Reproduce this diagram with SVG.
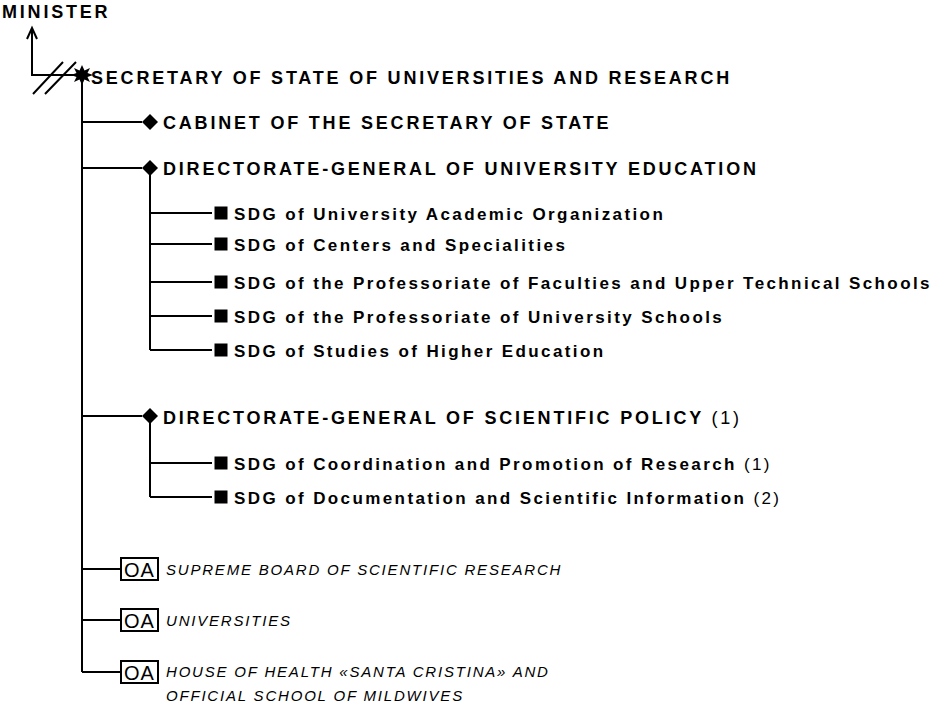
<svg xmlns="http://www.w3.org/2000/svg" width="937" height="707" viewBox="0 0 937 707">
<style>
.h{font-family:"Liberation Sans",Arial,sans-serif;font-weight:bold;font-size:18px;letter-spacing:2.8px;fill:#000}
.s{font-family:"Liberation Sans",Arial,sans-serif;font-weight:bold;font-size:17px;letter-spacing:2.4px;fill:#000}
.n{font-weight:normal}
.i{font-family:"Liberation Sans",Arial,sans-serif;font-style:italic;font-size:15px;letter-spacing:1.8px;fill:#000}
.oa{font-family:"Liberation Sans",Arial,sans-serif;font-size:20px;letter-spacing:1px;fill:#000}
.ln{stroke:#000;stroke-width:2;fill:none}
.box{stroke:#000;stroke-width:2;fill:#fff}
</style>
<defs>
<polygon id="dia" points="0,-8 8,0 0,8 -8,0" fill="#000"/>
<rect id="sq" x="-6.5" y="-6.5" width="13" height="13" fill="#000"/>
</defs>
<g id="connectors" class="ln">
<path d="M27,39 L32,28 L37,39"/>
<path d="M32,28 V75 H82"/>
<path d="M33,94 L63,62 M45,94 L76,62"/>
<path d="M82,75 V672"/>
<path d="M82,122 H142 M82,168 H142 M82,416 H142"/>
<path d="M150,168 V350"/>
<path d="M150,213 H212 M150,244 H212 M150,282 H212 M150,316 H212 M150,350 H212"/>
<path d="M150,416 V497"/>
<path d="M150,463 H212 M150,497 H212"/>
<path d="M82,569 H121 M82,620 H121 M82,672 H121"/>
</g>
<g id="minister"><text class="h" x="2" y="18">MINISTER</text></g>
<g id="secretary">
<polygon points="82,65 84.5,70.5 90,68 87.5,73 93,75 87.5,77 90,82 84.5,79.5 82,85 79.5,79.5 74,82 76.5,77 71,75 76.5,73 74,68 79.5,70.5" fill="#000"/>
<text class="h" x="91" y="84">SECRETARY OF STATE OF UNIVERSITIES AND RESEARCH</text>
</g>
<g id="cabinet"><use href="#dia" x="150" y="122"/><text class="h" x="163" y="129">CABINET OF THE SECRETARY OF STATE</text></g>
<g id="dg-ue"><use href="#dia" x="150" y="168"/><text class="h" x="163" y="175">DIRECTORATE-GENERAL OF UNIVERSITY EDUCATION</text></g>
<g id="sdg1"><use href="#sq" x="221" y="213"/><text class="s" x="234" y="220">SDG of University Academic Organization</text></g>
<g id="sdg2"><use href="#sq" x="221" y="244"/><text class="s" x="234" y="251">SDG of Centers and Specialities</text></g>
<g id="sdg3"><use href="#sq" x="221" y="282"/><text class="s" x="234" y="289">SDG of the Professoriate of Faculties and Upper Technical Schools</text></g>
<g id="sdg4"><use href="#sq" x="221" y="316"/><text class="s" x="234" y="323">SDG of the Professoriate of University Schools</text></g>
<g id="sdg5"><use href="#sq" x="221" y="350"/><text class="s" x="234" y="357">SDG of Studies of Higher Education</text></g>
<g id="dg-sp"><use href="#dia" x="150" y="416"/><text class="h" x="163" y="424">DIRECTORATE-GENERAL OF SCIENTIFIC POLICY <tspan class="n">(1)</tspan></text></g>
<g id="sdg6"><use href="#sq" x="221" y="463"/><text class="s" x="234" y="470">SDG of Coordination and Promotion of Research <tspan class="n">(1)</tspan></text></g>
<g id="sdg7"><use href="#sq" x="221" y="497"/><text class="s" x="234" y="504">SDG of Documentation and Scientific Information <tspan class="n">(2)</tspan></text></g>
<g id="oa1"><rect class="box" x="121" y="558" width="37" height="22"/><text class="oa" x="139.5" y="577" text-anchor="middle">OA</text><text class="i" x="166" y="575">SUPREME BOARD OF SCIENTIFIC RESEARCH</text></g>
<g id="oa2"><rect class="box" x="121" y="609" width="37" height="22"/><text class="oa" x="139.5" y="628" text-anchor="middle">OA</text><text class="i" x="166" y="626">UNIVERSITIES</text></g>
<g id="oa3"><rect class="box" x="121" y="661" width="37" height="22"/><text class="oa" x="139.5" y="680" text-anchor="middle">OA</text><text class="i" x="166" y="677">HOUSE OF HEALTH «SANTA CRISTINA» AND</text><text class="i" x="166" y="701">OFFICIAL SCHOOL OF MILDWIVES</text></g>
</svg>
